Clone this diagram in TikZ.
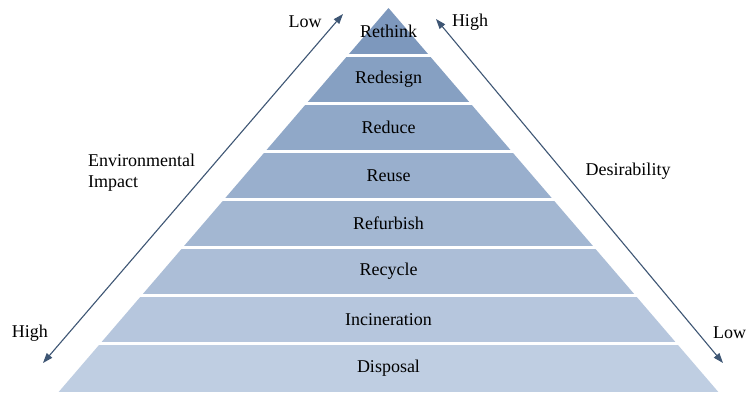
\documentclass[tikz,border=0pt]{standalone}
\usepackage{fontspec}
\setmainfont{Liberation Serif}
\usetikzlibrary{arrows.meta}
\definecolor{topc}{RGB}{125,152,189}
\definecolor{botc}{RGB}{191,206,226}
\definecolor{arrowc}{RGB}{62,86,116}
\begin{document}
\begin{tikzpicture}[x=1pt,y=-1pt,
  lbl/.style={font=\fontsize{18}{21}\selectfont, inner sep=0pt},
  dblarrow/.style={arrowc, line width=1.1pt, {Triangle[length=10pt,width=7pt]}-{Triangle[length=10pt,width=7pt]}, shorten <=0pt, shorten >=0pt}]
\useasboundingbox (0,0) rectangle (748,394);
\fill[white] (0,0) rectangle (748,394);
% bands
\foreach \i in {1,...,8}{
  \pgfmathsetmacro{\yt}{\i==1 ? 8 : 55+48.14*(\i-2)}
  \pgfmathsetmacro{\yb}{55+48.14*(\i-1)}
  \pgfmathsetmacro{\wt}{(\yt-8)*0.859}
  \pgfmathsetmacro{\wb}{(\yb-8)*0.859}
  \pgfmathsetmacro{\pct}{(\i-1)/7*100}
  \colorlet{bandc}{botc!\pct!topc}
  \fill[bandc] (388.5-\wt,\yt) -- (388.5+\wt,\yt) -- (388.5+\wb,\yb) -- (388.5-\wb,\yb) -- cycle;
}
\foreach \i in {1,...,7}{
  \pgfmathsetmacro{\yb}{55+48.14*(\i-1)}
  \pgfmathsetmacro{\wb}{(\yb-8)*0.859+3}
  \draw[white, line width=3pt] (388.5-\wb,\yb) -- (388.5+\wb,\yb);
}
% band labels
\foreach \n/\t [count=\i] in {rethink/Rethink, redesign/Redesign, reduce/Reduce, reuse/Reuse, refurbish/Refurbish, recycle/Recycle, incineration/Incineration, disposal/Disposal}{
  \pgfmathsetmacro{\ym}{\i==1 ? 31 : 55+48.14*(\i-1.5)}
  \node[lbl] (\n) at (388.5,\ym) {\t};
}
% arrows
\coordinate (la) at (343,14);
\coordinate (lb) at (43,363);
\coordinate (ra) at (436,19);
\coordinate (rb) at (723,363);
\draw[dblarrow] (lb) -- (la);
\draw[dblarrow] (ra) -- (rb);
% side labels
\node[lbl] (lowL) at (305,22) {Low};
\node[lbl] (highR) at (470,22) {High};
\node[lbl, align=left, anchor=west] (env) at (88,173) {Environmental\\Impact};
\node[lbl] (desir) at (628,171) {Desirability};
\node[lbl] (highL) at (30,333) {High};
\node[lbl, anchor=west] (lowR) at (713,333) {Low};
\end{tikzpicture}
\end{document}
